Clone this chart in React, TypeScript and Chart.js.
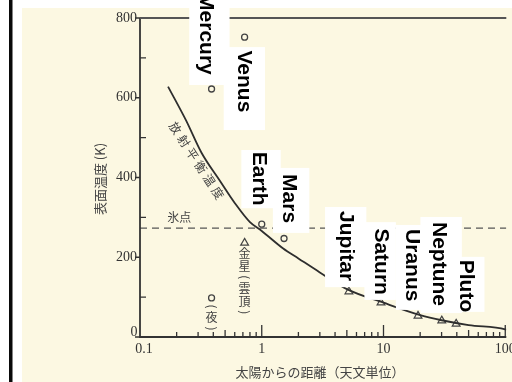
import React, { useEffect, useRef } from "react";
import { Chart, registerables } from "chart.js";

Chart.register(...registerables);

// Radiative equilibrium temperature curve: distance from the Sun (AU) and temperature (K)
const curveDistance = [0.17, 0.24, 0.32, 0.45, 0.6, 0.8, 1, 1.5, 2, 3, 5, 10, 20, 30, 50, 100, 102];
const curveTemp = [628, 542, 462, 393, 336, 288, 266, 222, 197, 162, 120, 86, 55, 42, 30, 19, 18];

// Observed surface temperatures (open circles)
const surfaceDistance = [0.387, 0.723, 1.0, 1.524];
const surfaceTemp = [622, 752, 283, 247];

// Mercury night side (open circle) and Venus cloud tops (open triangle)
const mercuryNight = { au: 0.387, t: 98 };
const venusCloud = { au: 0.723, t: 236 };

// Outer planets (open triangles)
const outerDistance = [5.2, 9.54, 19.2, 30.1, 39.5];
const outerTemp = [114, 86, 53, 41, 33];

const freezingPoint = 273;

const yTicks = [0, 200, 400, 600, 800];
const yMinorTicks = [100, 300, 500, 700];
const xTicks = [0.1, 1, 10, 100];
const xTickLabels = ["0.1", "1", "10", "100"];

const yTitle = "表面温度 (K)";
const xTitle = "太陽からの距離（天文単位）";
const curveLabel = "放射平衡温度";
const freezeLabel = "氷点";
const venusCloudLabel = ["金", "星", "(", "雲", "頂", ")"];
const mercuryNightLabel = ["(", "夜", ")"];

// Planet name tags: text centre and white backing box, both in data space (AU, K)
const nameTags = [
  { text: "Mercury", au: 0.348, t: 760, box: [0.2536, 0.544, 845, 632] },
  { text: "Venus", au: 0.706, t: 641, box: [0.487, 1.063, 727, 519] },
  { text: "Earth", au: 0.951, t: 397, box: [0.68, 1.432, 469, 323] },
  { text: "Mars", au: 1.663, t: 347, box: [1.234, 2.458, 424, 261] },
  { text: "Jupitar", au: 4.894, t: 228, box: [3.31, 7.23, 326, 125] },
  { text: "Saturn", au: 9.56, t: 189, box: [6.97, 12.64, 288, 93] },
  { text: "Uranus", au: 17.03, t: 180, box: [12.64, 20.9, 281, 68] },
  { text: "Neptune", au: 28.7, t: 183, box: [20.1, 44.0, 301, 60] },
  { text: "Pluto", au: 47.4, t: 128, box: [33.3, 67.5, 201, 63] },
];

const INK = "#333333";
const PAPER = "#fcf8e2";
const SERIF = "'Liberation Serif', 'DejaVu Serif', serif";
const JP = "'Noto Sans CJK JP', sans-serif";

function drawVertical(ctx: CanvasRenderingContext2D, chars: string[], x: number, top: number) {
  let y = top;
  for (const ch of chars) {
    const paren = ch === "(" || ch === ")";
    const cell = paren ? 9 : 13;
    const cy = y + cell / 2;
    ctx.save();
    ctx.translate(x, cy);
    if (paren) ctx.rotate(Math.PI / 2);
    ctx.textAlign = "center";
    ctx.textBaseline = "middle";
    ctx.fillText(ch, 0, 0);
    ctx.restore();
    y += cell;
  }
}

const paperPlugin = {
  id: "paper",
  beforeDraw(chart: any) {
    const { ctx, width, height } = chart;
    ctx.save();
    ctx.fillStyle = "#ffffff";
    ctx.fillRect(0, 0, width, height);
    ctx.fillStyle = "#0a0a0a";
    ctx.fillRect(9, 0, 3.5, height);
    ctx.fillStyle = PAPER;
    ctx.fillRect(22, 8, width - 22, height - 8);
    ctx.restore();
  },
  afterDraw(chart: any) {
    const { ctx, chartArea } = chart;
    const xs = chart.scales.x;
    const ys = chart.scales.y;
    const x0 = chartArea.left;
    const y0 = chartArea.bottom;
    ctx.save();

    // axes and top frame line
    ctx.strokeStyle = INK;
    ctx.lineWidth = 1.8;
    ctx.beginPath();
    ctx.moveTo(x0, chartArea.top);
    ctx.lineTo(x0, y0);
    ctx.lineTo(chartArea.right, y0);
    ctx.stroke();
    ctx.strokeStyle = "#555";
    ctx.lineWidth = 2;
    ctx.beginPath();
    ctx.moveTo(x0, chartArea.top);
    ctx.lineTo(chartArea.right, chartArea.top);
    ctx.stroke();

    // y ticks: majors outward, minors inward
    ctx.lineWidth = 1.3;
    ctx.strokeStyle = INK;
    ctx.beginPath();
    for (const v of yTicks) {
      const p = ys.getPixelForValue(v);
      ctx.moveTo(x0 - 5, p);
      ctx.lineTo(x0, p);
    }
    for (const v of yMinorTicks) {
      const p = ys.getPixelForValue(v);
      ctx.moveTo(x0, p);
      ctx.lineTo(x0 + 6, p);
    }
    // x ticks (pointing up into the plot)
    for (let d = 0.1; d < 150; d *= 10) {
      for (let m = 1; m <= 9; m++) {
        const v = d * m;
        if (v > xs.max) break;
        const p = xs.getPixelForValue(v);
        const len = m === 1 ? 12 : m === 5 ? 7 : 5;
        if (m === 1 && d === 0.1) continue;
        ctx.moveTo(p, y0);
        ctx.lineTo(p, y0 - len);
      }
    }
    ctx.stroke();

    // tick labels
    ctx.fillStyle = INK;
    ctx.font = `14px ${SERIF}`;
    ctx.textBaseline = "middle";
    ctx.textAlign = "right";
    for (const v of yTicks) {
      const p = ys.getPixelForValue(v);
      if (v === 0) {
        ctx.textAlign = "center";
        ctx.fillText("0", x0 - 6, p - 5);
        ctx.textAlign = "right";
      } else {
        ctx.fillText(String(v), x0 - 3, p);
      }
    }
    ctx.textAlign = "center";
    xTicks.forEach((v, i) => {
      const p = xs.getPixelForValue(v);
      ctx.fillText(xTickLabels[i], v === 0.1 ? p + 4 : p, y0 + 12);
    });

    // axis titles
    ctx.fillStyle = "#444";
    ctx.font = `13px ${JP}`;
    ctx.fillText(xTitle, 320, 372);
    ctx.save();
    ctx.translate(100, 179);
    ctx.rotate(-Math.PI / 2);
    ctx.fillText(yTitle, 0, 0);
    ctx.restore();

    // label along the equilibrium curve
    const a = { x: xs.getPixelForValue(0.1954), y: ys.getPixelForValue(524) };
    const b = { x: xs.getPixelForValue(0.435), y: ys.getPixelForValue(361) };
    const ang = Math.atan2(b.y - a.y, b.x - a.x);
    ctx.font = `12px ${JP}`;
    const chars = Array.from(curveLabel);
    chars.forEach((ch, i) => {
      const f = i / (chars.length - 1);
      ctx.save();
      ctx.translate(a.x + (b.x - a.x) * f, a.y + (b.y - a.y) * f);
      ctx.rotate(ang);
      ctx.fillText(ch, 0, 0);
      ctx.restore();
    });

    // freezing point label
    ctx.font = `12px ${JP}`;
    ctx.fillText(freezeLabel, xs.getPixelForValue(0.2105), ys.getPixelForValue(301));

    // vertical notes under Venus cloud-top and Mercury night markers
    drawVertical(ctx, venusCloudLabel, xs.getPixelForValue(venusCloud.au), ys.getPixelForValue(venusCloud.t) + 4);
    drawVertical(ctx, mercuryNightLabel, xs.getPixelForValue(mercuryNight.au), ys.getPixelForValue(mercuryNight.t) + 4);

    // planet name tags
    ctx.font = `bold 21px 'Liberation Sans', Arial, sans-serif`;
    for (const tag of nameTags) {
      const l = xs.getPixelForValue(tag.box[0]);
      const r = xs.getPixelForValue(tag.box[1]);
      const t = ys.getPixelForValue(tag.box[2]);
      const bt = ys.getPixelForValue(tag.box[3]);
      ctx.fillStyle = "#ffffff";
      ctx.fillRect(l, t, r - l, bt - t);
    }
    for (const tag of nameTags) {
      ctx.save();
      ctx.translate(xs.getPixelForValue(tag.au), ys.getPixelForValue(tag.t));
      ctx.rotate(Math.PI / 2);
      ctx.fillStyle = "#000";
      ctx.textAlign = "center";
      ctx.textBaseline = "middle";
      ctx.fillText(tag.text, 0, 0);
      ctx.restore();
    }
    ctx.restore();
  },
};

export default function App() {
  const ref = useRef<HTMLCanvasElement | null>(null);

  useEffect(() => {
    if (!ref.current) return;
    const chart = new Chart(ref.current, {
      type: "scatter",
      data: {
        datasets: [
          {
            type: "line",
            data: curveDistance.map((x, i) => ({ x, y: curveTemp[i] })),
            borderColor: "#2e2e2e",
            borderWidth: 1.8,
            pointRadius: 0,
            cubicInterpolationMode: "monotone",
            fill: false,
          } as any,
          {
            type: "line",
            data: [
              { x: 0.1, y: freezingPoint },
              { x: 102, y: freezingPoint },
            ],
            borderColor: "#555",
            borderWidth: 1.4,
            borderDash: [7, 5],
            pointRadius: 0,
            fill: false,
          } as any,
          {
            data: [
              ...surfaceDistance.map((x, i) => ({ x, y: surfaceTemp[i] })),
              { x: mercuryNight.au, y: mercuryNight.t },
            ],
            pointStyle: "circle",
            pointRadius: 3,
            borderColor: "#444",
            borderWidth: 1.3,
            backgroundColor: "rgba(0,0,0,0)",
          },
          {
            data: [
              { x: venusCloud.au, y: venusCloud.t },
              ...outerDistance.map((x, i) => ({ x, y: outerTemp[i] })),
            ],
            pointStyle: "triangle",
            pointRadius: 4.5,
            borderColor: "#444",
            borderWidth: 1.2,
            backgroundColor: "rgba(0,0,0,0)",
          },
        ],
      },
      options: {
        animation: false,
        responsive: false,
        devicePixelRatio: 1,
        layout: { padding: { top: 18, left: 0, right: 0, bottom: 0 } },
        plugins: { legend: { display: false }, tooltip: { enabled: false } },
        scales: {
          x: {
            type: "logarithmic",
            position: "bottom",
            min: 0.1,
            max: 102,
            ticks: { display: false },
            grid: { display: false },
            border: { display: false },
            afterFit: (s: any) => {
              s.height = 45;
            },
          },
          y: {
            type: "linear",
            min: 0,
            max: 800,
            ticks: { display: false },
            grid: { display: false },
            border: { display: false },
            afterFit: (s: any) => {
              s.width = 140;
            },
          },
        },
      } as any,
      plugins: [paperPlugin],
    });
    return () => chart.destroy();
  }, []);

  return (
    <div style={{ position: "fixed", left: 0, top: 0, width: 512, height: 382 }}>
      <canvas ref={ref} width={512} height={382} style={{ width: 512, height: 382, display: "block" }} />
    </div>
  );
}
